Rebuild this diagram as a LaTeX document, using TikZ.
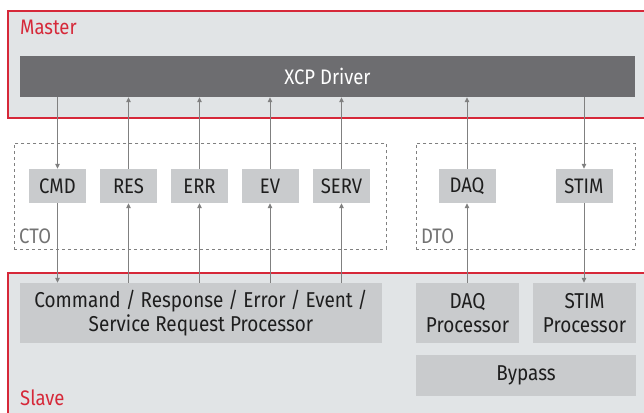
\documentclass[tikz,border=0pt]{standalone}
\usepackage{fontspec}
\setmainfont{Fira Sans}[FakeStretch=0.88]
\usetikzlibrary{arrows.meta,positioning}
\definecolor{redline}{HTML}{D62839}
\definecolor{panel}{HTML}{E1E4E6}
\definecolor{dark}{HTML}{6D6D70}
\definecolor{boxfill}{HTML}{C9CBCD}
\definecolor{conn}{HTML}{808080}
\definecolor{txt}{HTML}{1E1E1E}
\tikzset{
  panelbox/.style={draw=redline,line width=1.7pt,fill=panel,anchor=north west,inner sep=0pt},
  small/.style={fill=boxfill,text=txt,minimum width=57pt,minimum height=34pt,inner sep=0pt,font=\fontsize{21}{23}\selectfont},
  proc/.style={fill=boxfill,text=txt,inner sep=0pt,align=center,font=\fontsize{21.5}{24}\selectfont},
  grp/.style={draw=conn,dashed,line width=0.8pt,anchor=north west,inner sep=0pt},
  lbl/.style={anchor=west,inner sep=0pt,font=\fontsize{21}{23}\selectfont},
  conn/.style={draw=conn,line width=1pt,-{Triangle[length=5pt,width=4.5pt]}},
}
\begin{document}
\begin{tikzpicture}[x=1pt,y=-1pt]
\useasboundingbox (0,0) rectangle (644,412);
\fill[white] (0,0) rectangle (644,412);
\clip (0,0) rectangle (644,412);
% Master
\node[panelbox,minimum width=660pt,minimum height=107pt] (master) at (7,10) {};
\node[lbl,text=redline] (masterlbl) at (20,27) {Master};
\node[fill=dark,text=white,minimum width=615pt,minimum height=41pt,inner sep=0pt,font=\fontsize{21}{23}\selectfont] (xcp) at (327.5,76.5) {XCP Driver};
% Slave
\node[panelbox,minimum width=660pt,minimum height=160pt] (slave) at (7,272) {};
\node[lbl,text=redline] (slavelbl) at (20,398) {Slave};
% groups
\node[grp,minimum width=372pt,minimum height=106pt] (cto) at (14,143) {};
\node[lbl,text=conn!90!black] (ctolbl) at (19,236) {CTO};
\node[grp,minimum width=219pt,minimum height=106pt] (dto) at (416,143) {};
\node[lbl,text=conn!90!black] (dtolbl) at (421,236) {DTO};
% small boxes
\node[small] (cmd) at (57.5,186) {CMD};
\node[small] (res) at (128.5,186) {RES};
\node[small] (err) at (199.5,186) {ERR};
\node[small] (ev) at (270,186) {EV};
\node[small] (serv) at (341.5,186) {SERV};
\node[small] (daq) at (467,186) {DAQ};
\node[small] (stim) at (584,186) {STIM};
% processors
\node[proc,minimum width=362pt,minimum height=60pt] (crp) at (201,313) {Command / Response / Error / Event /\\Service Request Processor};
\node[proc,minimum width=103pt,minimum height=60pt] (daqp) at (467.5,313) {DAQ\\Processor};
\node[proc,minimum width=103pt,minimum height=60pt] (stimp) at (584.5,313) {STIM\\Processor};
\node[proc,minimum width=220pt,minimum height=41pt] (bypass) at (526,375.5) {Bypass};
% connectors
\draw[conn] (cmd.north |- xcp.south) -- (cmd.north);
\draw[conn] (cmd.south) -- (cmd.south |- crp.north);
\draw[conn] (res.north) -- (res.north |- xcp.south);
\draw[conn] (res.south |- crp.north) -- (res.south);
\draw[conn] (err.north) -- (err.north |- xcp.south);
\draw[conn] (err.south |- crp.north) -- (err.south);
\draw[conn] (ev.north) -- (ev.north |- xcp.south);
\draw[conn] (ev.south |- crp.north) -- (ev.south);
\draw[conn] (serv.north) -- (serv.north |- xcp.south);
\draw[conn] (serv.south |- crp.north) -- (serv.south);
\draw[conn] (daq.north) -- (daq.north |- xcp.south);
\draw[conn] (daq.south |- daqp.north) -- (daq.south);
\draw[conn] (stim.north |- xcp.south) -- (stim.north);
\draw[conn] (stim.south) -- (stim.south |- stimp.north);
\end{tikzpicture}
\end{document}
